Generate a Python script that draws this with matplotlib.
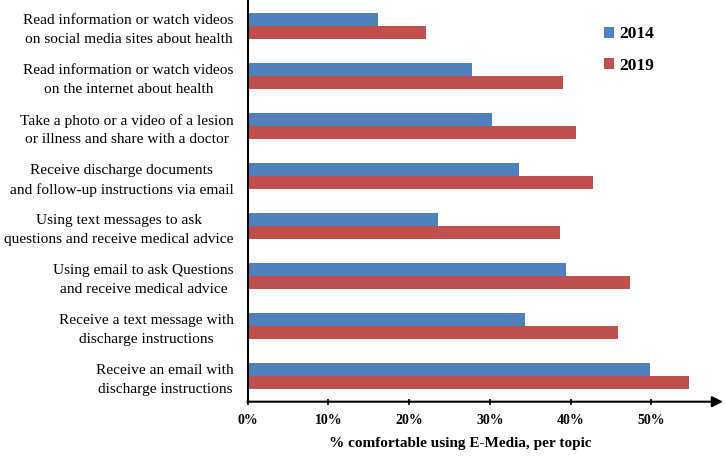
import matplotlib
matplotlib.use("Agg")
import matplotlib.pyplot as plt
import numpy as np
from matplotlib.patches import Patch
from matplotlib.ticker import FuncFormatter
from matplotlib.font_manager import FontProperties

plt.rcParams['font.family'] = ['Liberation Serif', 'DejaVu Serif']

categories = [
    "Read information or watch videos\non social media sites about health",
    "Read information or watch videos\non the internet about health",
    "Take a photo or a video of a lesion\nor illness and share with a doctor",
    "Receive discharge documents\nand follow-up instructions via email",
    "Using text messages to ask\nquestions and receive medical advice",
    "Using email to ask Questions\nand receive medical advice",
    "Receive a text message with\ndischarge instructions",
    "Receive an email with\ndischarge instructions",
]
values_2014 = [0.162, 0.278, 0.303, 0.336, 0.236, 0.394, 0.344, 0.498]
values_2019 = [0.221, 0.391, 0.407, 0.427, 0.387, 0.474, 0.459, 0.546]
series_names = ["2014", "2019"]
xticks = [0.0, 0.1, 0.2, 0.3, 0.4, 0.5]
xlabel = "% comfortable using E-Media, per topic"

c2014 = "#4F81BD"
c2019 = "#C0504D"

fig = plt.figure(figsize=(7.25, 4.58), dpi=100)
ax = fig.add_axes([247.5/725, 1-401.7/458, (723-247.5)/725, 401.7/458])

y = np.arange(len(categories))
h = 0.256
ax.barh(y - h/2, values_2014, height=h, color=c2014, label=series_names[0])
ax.barh(y + h/2, values_2019, height=h, color=c2019, label=series_names[1])

ax.set_ylim(7.514, -0.514)
ax.set_xlim(0, 0.5885)

for s in ['top', 'right', 'bottom']:
    ax.spines[s].set_visible(False)
ax.spines['left'].set_linewidth(1.5)
ax.spines['left'].set_color('black')

ax.annotate('', xy=(1.0, 0), xytext=(0, 0), xycoords='axes fraction',
            arrowprops=dict(arrowstyle='-|>', color='black', lw=1.5,
                            mutation_scale=16, shrinkA=0, shrinkB=0))

ax.set_xticks(xticks)
ax.xaxis.set_major_formatter(FuncFormatter(lambda v, p: f"{v*100:.0f}%"))
ax.tick_params(axis='x', direction='inout', length=5, width=1.2, pad=6, labelsize=10)
for t in ax.get_xticklabels():
    t.set_fontweight('bold')

label_size = 11.1
renderer = fig.canvas.get_renderer()
fp = FontProperties(family=['Liberation Serif', 'DejaVu Serif'], size=label_size)
_, lh, ld = renderer.get_text_width_height_descent("lp", fp, ismath=False)
ls = 15.5 / (lh - ld)

ax.set_yticks(y)
ax.set_yticklabels(categories, fontsize=label_size)
ax.tick_params(axis='y', length=0, pad=10)
for t in ax.get_yticklabels():
    t.set_multialignment('center')
    t.set_linespacing(ls)

fig.text(460/725, 1-444/458, xlabel, ha='center', va='center',
         fontsize=11, fontweight='bold')

handles = [Patch(facecolor=c2014), Patch(facecolor=c2019)]
leg = fig.legend(handles, series_names, loc='center left',
                 bbox_to_anchor=(604/725, 1-50/458), frameon=False,
                 prop={'weight': 'bold', 'size': 12.5}, handlelength=0.6,
                 handleheight=0.6, handletextpad=0.3, labelspacing=0.9,
                 borderpad=0, borderaxespad=0)

fig.savefig("out.png", dpi=100)
